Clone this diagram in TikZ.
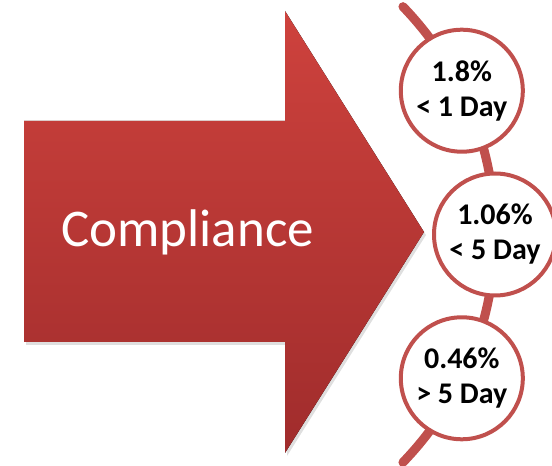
\documentclass[tikz,border=0pt]{standalone}
\usepackage{fontspec}
\setmainfont{Carlito}
\usetikzlibrary{shadows}

\definecolor{chainred}{RGB}{192,80,77}
\definecolor{arrowtop}{RGB}{206,66,61}
\definecolor{arrowbot}{RGB}{160,44,44}

\tikzset{
  stat/.style={circle, draw=chainred, line width=4pt, fill=white,
    minimum size=122pt, inner sep=0pt, align=center,
    font=\bfseries\fontsize{30}{35}\selectfont},
  chain/.style={draw=chainred, line width=9pt, line cap=round}
}

\begin{document}
\begin{tikzpicture}[x=1pt,y=1pt]

    \useasboundingbox (0,0) rectangle (552,466);

    %big arrow
    \coordinate (A) at (24,124);
    \coordinate (B) at (24,345);
    \coordinate (C) at (285,345);
    \coordinate (D) at (285,455);
    \coordinate (E) at (424,234);
    \coordinate (F) at (285,13);
    \coordinate (G) at (285,124);

    \fill[top color=arrowtop, bottom color=arrowbot,
      drop shadow={shadow xshift=2pt, shadow yshift=-3pt, opacity=0.25}]
      (A) -- (B) -- (C) -- (D) -- (E) -- (F) -- (G) -- cycle;

    \node[anchor=base west, text=white, inner sep=0pt,
      font=\fontsize{53}{60}\selectfont] (title) at (61,219) {Compliance};

    %chain behind the circles
    \coordinate (O) at (167,231.5);
    \draw[chain] (O) ++(44:328) arc (44:-44:328);

    %circles
    \path (O) ++(26:328) node[stat] (day1) {1.8\%\\< 1 Day};
    \path (O) ++(0:328) node[stat] (day5) {1.06\%\\< 5 Day};
    \path (O) ++(-26:328) node[stat] (over5) {0.46\%\\> 5 Day};

\end{tikzpicture}
\end{document}
